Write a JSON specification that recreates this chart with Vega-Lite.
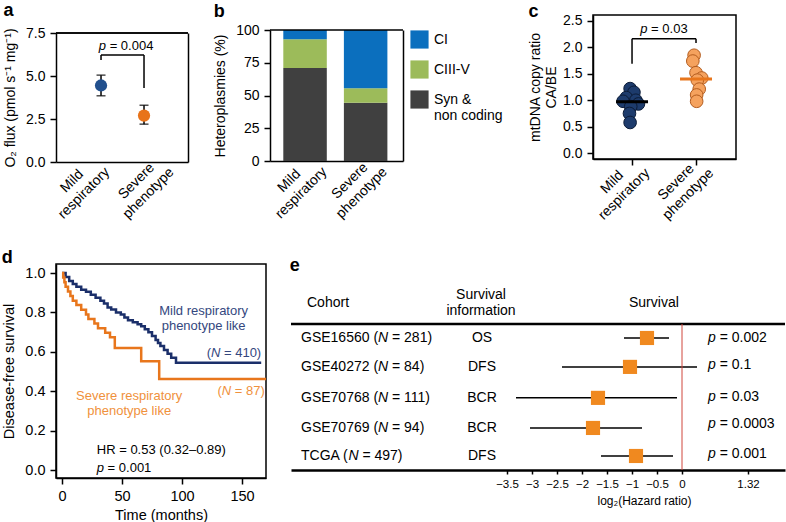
{
  "$schema": "https://vega.github.io/schema/vega-lite/v6.json",
  "padding": {"left": 1, "top": 2, "right": 0, "bottom": 0},
  "background": "white",
  "spacing": 24,
  "resolve": {"scale": {"color": "independent", "fill": "independent", "stroke": "independent"}},
  "config": {
    "font": "Liberation Sans",
    "view": {"stroke": "#000", "strokeWidth": 1.5},
    "axis": {
      "domainColor": "#000", "domainWidth": 1.5, "tickColor": "#000", "tickWidth": 1.5, "tickSize": 6,
      "labelColor": "#000", "titleColor": "#000", "labelFontSize": 14, "titleFontSize": 14,
      "titleFontWeight": "normal", "grid": false, "labelPadding": 5, "titlePadding": 8
    },
    "title": {"fontSize": 18, "fontWeight": "bold", "anchor": "start", "frame": "bounds", "color": "#000"},
    "text": {"font": "Liberation Sans", "color": "#000"}
  },
  "vconcat": [
    {
      "spacing": 24,
      "resolve": {"scale": {"color": "independent", "fill": "independent", "stroke": "independent"}},
      "hconcat": [
        {
          "title": {"text": "a", "offset": -5},
          "width": 132, "height": 147,
          "view": {"stroke": null},
          "data": {"values": [
            {"group": "Mild respiratory", "pos": 1, "mean": 4.45, "lo": 3.85, "hi": 5.05},
            {"group": "Severe phenotype", "pos": 2, "mean": 2.7, "lo": 2.2, "hi": 3.3}
          ]},
          "resolve": {"axis": {"y": "independent"}},
          "layer": [
            {"mark": {"type": "rule", "strokeWidth": 1.5, "color": "#000"},
             "encoding": {
               "x": {"field": "pos", "type": "quantitative",
                 "scale": {"domain": [-0.047, 3.023], "nice": false, "zero": false},
                 "axis": {"title": null, "labels": false, "ticks": false, "values": [1, 2]}},
               "y": {"field": "lo", "type": "quantitative", "scale": {"domain": [0, 7.5], "range": [147, 18], "nice": false},
                 "axis": {"title": "O₂ flux (pmol s⁻¹ mg⁻¹)", "values": [0, 2.5, 5, 7.5], "format": ".1f", "orient": "left"}},
               "y2": {"field": "hi"}}},
            {"mark": {"type": "tick", "thickness": 1.5, "size": 9, "color": "#000", "orient": "horizontal"},
             "encoding": {"x": {"field": "pos", "type": "quantitative"}, "y": {"field": "lo", "type": "quantitative", "axis": null}}},
            {"mark": {"type": "tick", "thickness": 1.5, "size": 9, "color": "#000", "orient": "horizontal"},
             "encoding": {"x": {"field": "pos", "type": "quantitative"}, "y": {"field": "hi", "type": "quantitative", "axis": null}}},
            {"mark": {"type": "circle", "opacity": 1, "size": 150},
             "encoding": {"x": {"field": "pos", "type": "quantitative"}, "y": {"field": "mean", "type": "quantitative", "axis": null},
               "color": {"field": "group", "type": "nominal", "scale": {"range": ["#22508e", "#e8731a"]}, "legend": null}}},
            {"data": {"values": [
              {"x": 1, "y": 5.93, "y2": 6.22},
              {"x": 2, "y": 4.3, "y2": 6.22}]},
             "mark": {"type": "rule", "strokeWidth": 1.5, "color": "#000"},
             "encoding": {"x": {"field": "x", "type": "quantitative"}, "y": {"field": "y", "type": "quantitative", "axis": null}, "y2": {"field": "y2"}}},
            {"data": {"values": [{"x": 1, "x2": 2, "y": 6.22}]},
             "mark": {"type": "rule", "strokeWidth": 1.5, "color": "#000"},
             "encoding": {"x": {"field": "x", "type": "quantitative"}, "x2": {"field": "x2"}, "y": {"field": "y", "type": "quantitative", "axis": null}}},
            {"data": {"values": [{"x": 0.95, "y": 6.75, "label": "= 0.004"}]},
             "layer": [
               {"mark": {"type": "text", "fontSize": 13, "align": "left", "baseline": "middle", "fontStyle": "italic"},
                "encoding": {"x": {"field": "x", "type": "quantitative"}, "y": {"field": "y", "type": "quantitative", "axis": null}, "text": {"value": "p"}}},
               {"mark": {"type": "text", "fontSize": 13, "align": "left", "baseline": "middle", "dx": 10.8},
                "encoding": {"x": {"field": "x", "type": "quantitative"}, "y": {"field": "y", "type": "quantitative", "axis": null}, "text": {"field": "label"}}}
             ]},
            {"data": {"values": [
              {"x": 0.326, "y": -1.12, "l1": "Mild", "l2": "respiratory"},
              {"x": 1.826, "y": -1.12, "l1": "Severe", "l2": "phenotype"}]},
             "layer": [
               {"mark": {"type": "text", "fontSize": 14, "align": "center", "baseline": "middle", "angle": -45},
                "encoding": {"x": {"field": "x", "type": "quantitative"}, "y": {"field": "y", "type": "quantitative", "axis": null}, "text": {"field": "l1"}}},
               {"mark": {"type": "text", "fontSize": 14, "align": "center", "baseline": "middle", "angle": -45, "dy": 17},
                "encoding": {"x": {"field": "x", "type": "quantitative"}, "y": {"field": "y", "type": "quantitative", "axis": null}, "text": {"field": "l2"}}}
             ]},
            {"mark": {"type": "rule", "strokeWidth": 1.5, "color": "#000"},
             "encoding": {"y": {"datum": 7.5, "type": "quantitative",
               "axis": {"orient": "right", "labels": false, "ticks": false, "title": null, "domain": true}}}}
          ]
        },
        {
          "title": {"text": "b", "offset": -6},
          "width": 133, "height": 146,
          "view": {"stroke": null},
          "resolve": {"axis": {"y": "independent"}},
          "layer": [
            {
              "data": {"values": [
                {"group": "Mild respiratory", "pos": 1, "cat": "Syn & non coding", "value": 71, "ord": 1},
                {"group": "Mild respiratory", "pos": 1, "cat": "CIII-V", "value": 22, "ord": 2},
                {"group": "Mild respiratory", "pos": 1, "cat": "CI", "value": 7, "ord": 3},
                {"group": "Severe phenotype", "pos": 2, "cat": "Syn & non coding", "value": 44.5, "ord": 1},
                {"group": "Severe phenotype", "pos": 2, "cat": "CIII-V", "value": 11, "ord": 2},
                {"group": "Severe phenotype", "pos": 2, "cat": "CI", "value": 44.5, "ord": 3}
              ]},
              "mark": {"type": "bar", "width": 43.5, "orient": "vertical"},
              "encoding": {
                "x": {"field": "pos", "type": "quantitative",
                  "scale": {"domain": [0.504, 2.534], "nice": false, "zero": false},
                  "axis": {"title": null, "labels": false, "ticks": false, "values": [1, 2]}},
                "y": {"field": "value", "type": "quantitative", "stack": "zero",
                  "scale": {"domain": [0, 100], "range": [146, 15], "nice": false},
                  "axis": {"title": "Heteroplasmies (%)", "values": [0, 25, 50, 75, 100], "orient": "left"}},
                "color": {"field": "cat", "type": "nominal",
                  "scale": {"domain": ["CI", "CIII-V", "Syn & non coding"], "range": ["#0b6fbe", "#9cbb5a", "#404040"]},
                  "legend": {"title": null, "orient": "none", "legendX": 140, "legendY": 15, "symbolType": "square", "symbolSize": 330,
                    "symbolStrokeWidth": 0, "labelFontSize": 14, "labelColor": "#000", "rowPadding": 11, "labelOffset": 5,
                    "labelExpr": "datum.label == 'Syn & non coding' ? ['Syn &', 'non coding'] : datum.label", "labelLineHeight": 15}},
                "order": {"field": "ord", "type": "quantitative"}
              }
            },
            {"data": {"values": [
              {"x": 0.74, "y": -15.3, "l1": "Mild", "l2": "respiratory"},
              {"x": 1.74, "y": -15.3, "l1": "Severe", "l2": "phenotype"}]},
             "layer": [
               {"mark": {"type": "text", "fontSize": 14, "align": "center", "baseline": "middle", "angle": -45},
                "encoding": {"x": {"field": "x", "type": "quantitative"}, "y": {"field": "y", "type": "quantitative", "axis": null}, "text": {"field": "l1"}}},
               {"mark": {"type": "text", "fontSize": 14, "align": "center", "baseline": "middle", "angle": -45, "dy": 17},
                "encoding": {"x": {"field": "x", "type": "quantitative"}, "y": {"field": "y", "type": "quantitative", "axis": null}, "text": {"field": "l2"}}}
             ]},
            {"data": {"values": [{}]},
             "mark": {"type": "rule", "strokeWidth": 1.5, "color": "#000"},
             "encoding": {"y": {"datum": 100, "type": "quantitative",
               "axis": {"orient": "right", "labels": false, "ticks": false, "title": null, "domain": true}}}}
          ]
        },
        {
          "title": {"text": "c", "offset": -7},
          "width": 143, "height": 144,
          "encoding": {
            "x": {"field": "x", "type": "quantitative", "scale": {"domain": [0.39, 2.625], "nice": false, "zero": false},
              "axis": {"title": null, "values": [1, 2], "labels": false}},
            "y": {"field": "y", "type": "quantitative", "scale": {"domain": [-0.11, 2.61], "nice": false, "zero": false},
              "axis": {"title": ["mtDNA copy ratio", "CA/BE"], "values": [0, 0.5, 1, 1.5, 2, 2.5], "format": ".1f", "labelOverlap": false, "titlePadding": 4}}
          },
          "layer": [
            {"data": {"values": [
              {"grp": "Mild", "x": 0.97, "y": 1.22}, {"grp": "Mild", "x": 1.03, "y": 1.15}, {"grp": "Mild", "x": 0.91, "y": 1.05},
              {"grp": "Mild", "x": 1.06, "y": 1.0}, {"grp": "Mild", "x": 0.86, "y": 0.98}, {"grp": "Mild", "x": 1.1, "y": 0.93},
              {"grp": "Mild", "x": 0.98, "y": 0.88}, {"grp": "Mild", "x": 0.96, "y": 0.75}, {"grp": "Mild", "x": 0.97, "y": 0.58},
              {"grp": "Severe", "x": 1.97, "y": 1.85}, {"grp": "Severe", "x": 1.95, "y": 1.74}, {"grp": "Severe", "x": 2.0, "y": 1.52},
              {"grp": "Severe", "x": 2.09, "y": 1.42}, {"grp": "Severe", "x": 2.02, "y": 1.38}, {"grp": "Severe", "x": 2.05, "y": 1.21},
              {"grp": "Severe", "x": 2.01, "y": 1.1}, {"grp": "Severe", "x": 2.01, "y": 0.98}
            ]},
             "mark": {"type": "circle", "size": 160, "opacity": 1, "strokeWidth": 1},
             "encoding": {
               "fill": {"field": "grp", "type": "nominal", "scale": {"range": ["#1d3b6c", "#f5a25e"]}, "legend": null},
               "stroke": {"field": "grp", "type": "nominal", "scale": {"range": ["#0c1c38", "#b35c1e"]}, "legend": null}
             }},
            {"data": {"values": [{"x": 0.75, "x2": 1.25, "y": 0.97}]},
             "mark": {"type": "rule", "strokeWidth": 3, "color": "#000"},
             "encoding": {"x2": {"field": "x2"}}},
            {"data": {"values": [{"x": 1.75, "x2": 2.25, "y": 1.4}]},
             "mark": {"type": "rule", "strokeWidth": 3, "color": "#e8761c"},
             "encoding": {"x2": {"field": "x2"}}},
            {"data": {"values": [{"x": 1, "y": 1.69, "y2": 2.16}, {"x": 2, "y": 2.08, "y2": 2.16}]},
             "mark": {"type": "rule", "strokeWidth": 1.5, "color": "#000"},
             "encoding": {"y2": {"field": "y2"}}},
            {"data": {"values": [{"x": 1, "x2": 2, "y": 2.16}]},
             "mark": {"type": "rule", "strokeWidth": 1.5, "color": "#000"},
             "encoding": {"x2": {"field": "x2"}}},
            {"data": {"values": [{"x": 1.5, "y": 2.34, "label": "= 0.03"}]},
             "layer": [
               {"mark": {"type": "text", "fontSize": 13, "align": "left", "baseline": "middle", "fontStyle": "italic", "dx": -23.7},
                "encoding": {"text": {"value": "p"}}},
               {"mark": {"type": "text", "fontSize": 13, "align": "left", "baseline": "middle", "dx": -12.9},
                "encoding": {"text": {"field": "label"}}}
             ]},
            {"data": {"values": [
              {"x": 0.69, "y": -0.55, "l1": "Mild", "l2": "respiratory"},
              {"x": 1.69, "y": -0.55, "l1": "Severe", "l2": "phenotype"}]},
             "layer": [
               {"mark": {"type": "text", "fontSize": 14, "align": "center", "baseline": "middle", "angle": -45},
                "encoding": {"text": {"field": "l1"}}},
               {"mark": {"type": "text", "fontSize": 14, "align": "center", "baseline": "middle", "angle": -45, "dy": 17},
                "encoding": {"text": {"field": "l2"}}}
             ]}
          ]
        }
      ]
    },
    {
      "spacing": 17,
      "resolve": {"scale": {"color": "independent", "fill": "independent", "stroke": "independent"}},
      "hconcat": [
        {
          "title": {"text": "d", "offset": -3},
          "width": 210, "height": 214,
          "encoding": {
            "x": {"field": "t", "type": "quantitative", "scale": {"domain": [-5, 170], "nice": false, "zero": false},
              "axis": {"title": "Time (months)", "values": [0, 50, 100, 150], "labelFontSize": 14.5, "titleFontSize": 14.5, "titlePadding": 6}},
            "y": {"field": "s", "type": "quantitative", "scale": {"domain": [-0.04, 1.046], "nice": false, "zero": false},
              "axis": {"title": "Disease-free survival", "values": [0, 0.2, 0.4, 0.6, 0.8, 1.0], "format": ".1f", "labelFontSize": 14.5, "titleFontSize": 14.5}}
          },
          "layer": [
            {"data": {"values": [
              {"grp": "Mild", "t": 0, "s": 1.0}, {"grp": "Mild", "t": 3, "s": 0.98}, {"grp": "Mild", "t": 6, "s": 0.96},
              {"grp": "Mild", "t": 9, "s": 0.945}, {"grp": "Mild", "t": 12, "s": 0.93}, {"grp": "Mild", "t": 16, "s": 0.915},
              {"grp": "Mild", "t": 20, "s": 0.905}, {"grp": "Mild", "t": 24, "s": 0.89}, {"grp": "Mild", "t": 28, "s": 0.875},
              {"grp": "Mild", "t": 32, "s": 0.86}, {"grp": "Mild", "t": 35, "s": 0.845}, {"grp": "Mild", "t": 38, "s": 0.825},
              {"grp": "Mild", "t": 41, "s": 0.815}, {"grp": "Mild", "t": 45, "s": 0.8}, {"grp": "Mild", "t": 49, "s": 0.79},
              {"grp": "Mild", "t": 52, "s": 0.775}, {"grp": "Mild", "t": 55, "s": 0.76}, {"grp": "Mild", "t": 59, "s": 0.75},
              {"grp": "Mild", "t": 63, "s": 0.74}, {"grp": "Mild", "t": 66, "s": 0.73}, {"grp": "Mild", "t": 69, "s": 0.715},
              {"grp": "Mild", "t": 72, "s": 0.7}, {"grp": "Mild", "t": 75, "s": 0.68}, {"grp": "Mild", "t": 78, "s": 0.66},
              {"grp": "Mild", "t": 80, "s": 0.645}, {"grp": "Mild", "t": 82, "s": 0.63}, {"grp": "Mild", "t": 85, "s": 0.61},
              {"grp": "Mild", "t": 88, "s": 0.59}, {"grp": "Mild", "t": 91, "s": 0.57}, {"grp": "Mild", "t": 95, "s": 0.545},
              {"grp": "Mild", "t": 166, "s": 0.545},
              {"grp": "Severe", "t": 0, "s": 1.0}, {"grp": "Severe", "t": 1, "s": 0.977}, {"grp": "Severe", "t": 2, "s": 0.954},
              {"grp": "Severe", "t": 3, "s": 0.93}, {"grp": "Severe", "t": 5, "s": 0.907}, {"grp": "Severe", "t": 7, "s": 0.884},
              {"grp": "Severe", "t": 9, "s": 0.86}, {"grp": "Severe", "t": 12, "s": 0.838}, {"grp": "Severe", "t": 16, "s": 0.814},
              {"grp": "Severe", "t": 20, "s": 0.79}, {"grp": "Severe", "t": 22, "s": 0.767}, {"grp": "Severe", "t": 27, "s": 0.744},
              {"grp": "Severe", "t": 30, "s": 0.72}, {"grp": "Severe", "t": 36, "s": 0.697}, {"grp": "Severe", "t": 40, "s": 0.674},
              {"grp": "Severe", "t": 44, "s": 0.62}, {"grp": "Severe", "t": 66, "s": 0.553}, {"grp": "Severe", "t": 81, "s": 0.462},
              {"grp": "Severe", "t": 170, "s": 0.462}
            ]},
             "mark": {"type": "line", "interpolate": "step-after", "strokeWidth": 2.5},
             "encoding": {
               "color": {"field": "grp", "type": "nominal", "scale": {"domain": ["Mild", "Severe"], "range": ["#1b2f6a", "#e8761c"]}, "legend": null}
             }},
            {"data": {"values": [{"t": 118, "s": 0.807, "label": "Mild respiratory\nphenotype like"}]},
             "mark": {"type": "text", "fontSize": 13, "align": "center", "baseline": "middle", "lineBreak": "\n", "lineHeight": 15, "color": "#34477e"},
             "encoding": {"text": {"field": "label"}}},
            {"data": {"values": [{"t": 166, "s": 0.594, "label": "= 410)"}]},
             "layer": [
               {"mark": {"type": "text", "fontSize": 13, "align": "right", "baseline": "middle", "color": "#34477e"},
                "encoding": {"text": {"field": "label"}}},
               {"mark": {"type": "text", "fontSize": 13, "align": "right", "baseline": "middle", "color": "#34477e", "fontStyle": "italic", "dx": -40.8},
                "encoding": {"text": {"value": "N"}}},
               {"mark": {"type": "text", "fontSize": 13, "align": "right", "baseline": "middle", "color": "#34477e", "dx": -50.2},
                "encoding": {"text": {"value": "("}}}
             ]},
            {"data": {"values": [{"t": 56, "s": 0.376, "label": "Severe respiratory\nphenotype like"}]},
             "mark": {"type": "text", "fontSize": 13, "align": "center", "baseline": "middle", "lineBreak": "\n", "lineHeight": 15, "color": "#f0913c"},
             "encoding": {"text": {"field": "label"}}},
            {"data": {"values": [{"t": 169, "s": 0.4, "label": "= 87)"}]},
             "layer": [
               {"mark": {"type": "text", "fontSize": 13, "align": "right", "baseline": "middle", "color": "#f0913c"},
                "encoding": {"text": {"field": "label"}}},
               {"mark": {"type": "text", "fontSize": 13, "align": "right", "baseline": "middle", "color": "#f0913c", "fontStyle": "italic", "dx": -33.6},
                "encoding": {"text": {"value": "N"}}},
               {"mark": {"type": "text", "fontSize": 13, "align": "right", "baseline": "middle", "color": "#f0913c", "dx": -43.0},
                "encoding": {"text": {"value": "("}}}
             ]},
            {"data": {"values": [{"t": 29, "s": 0.1, "label": "HR = 0.53 (0.32–0.89)"}]},
             "mark": {"type": "text", "fontSize": 13, "align": "left", "baseline": "middle"},
             "encoding": {"text": {"field": "label"}}},
            {"data": {"values": [{"t": 29, "s": 0.01, "label": "= 0.001"}]},
             "layer": [
               {"mark": {"type": "text", "fontSize": 13, "align": "left", "baseline": "middle", "fontStyle": "italic"},
                "encoding": {"text": {"value": "p"}}},
               {"mark": {"type": "text", "fontSize": 13, "align": "left", "baseline": "middle", "dx": 10.8},
                "encoding": {"text": {"field": "label"}}}
             ]}
          ]
        },
        {
          "title": {"text": "e", "offset": -11},
          "width": 494, "height": 206,
          "view": {"stroke": null},
          "resolve": {"axis": {"x": "independent"}},
          "data": {"values": [
            {"c1": "GSE16560 (", "c2": "= 281)", "info": "OS", "hr": -0.7, "lo": -1.16, "hi": -0.26, "pv": "= 0.002", "row": 1, "prow": 1},
            {"c1": "GSE40272 (", "c2": "= 84)", "info": "DFS", "hr": -1.04, "lo": -2.4, "hi": 0.3, "pv": "= 0.1", "row": 1.98, "prow": 1.92},
            {"c1": "GSE70768 (", "c2": "= 111)", "info": "BCR", "hr": -1.68, "lo": -3.32, "hi": -0.1, "pv": "= 0.03", "row": 3.03, "prow": 3.0},
            {"c1": "GSE70769 (", "c2": "= 94)", "info": "BCR", "hr": -1.78, "lo": -3.04, "hi": -0.8, "pv": "= 0.0003", "row": 4.05, "prow": 3.9},
            {"c1": "TCGA (", "c2": "= 497)", "info": "DFS", "hr": -0.92, "lo": -1.62, "hi": -0.18, "pv": "= 0.001", "row": 5.0, "prow": 4.93}
          ]},
          "layer": [
            {"mark": {"type": "rule", "strokeWidth": 1.5, "color": "#000"},
             "encoding": {
               "x": {"field": "lo", "type": "quantitative", "scale": {"domain": [-7.82, 2.06], "nice": false, "zero": false},
                 "axis": {"title": "log₂(Hazard ratio)", "values": [-3.5, -3, -2.5, -2, -1.5, -1, -0.5, 0, 1.32], "format": ".2~f", "labelOverlap": false, "orient": "bottom",
                   "domainWidth": 2.5, "tickSize": 4, "labelFontSize": 11.5, "titleFontSize": 12, "titleX": 353, "titlePadding": 6, "labelPadding": 4}},
               "x2": {"field": "hi"},
               "y": {"field": "row", "type": "quantitative", "scale": {"domain": [-1.508, 5.475], "nice": false, "zero": false, "reverse": true}, "axis": null}}},
            {"mark": {"type": "square", "size": 200, "opacity": 1, "color": "#f0891f"},
             "encoding": {"x": {"field": "hr", "type": "quantitative", "axis": null}, "y": {"field": "row", "type": "quantitative", "axis": null}}},
            {"mark": {"type": "text", "fontSize": 14, "align": "left", "baseline": "middle"},
             "encoding": {"x": {"datum": -7.62, "type": "quantitative", "axis": null}, "y": {"field": "row", "type": "quantitative", "axis": null}, "text": {"field": "c1"}}},
            {"transform": [{"filter": "datum.c1 != 'TCGA ('"}],
             "layer": [
               {"mark": {"type": "text", "fontSize": 14, "align": "left", "baseline": "middle", "fontStyle": "italic", "dx": 77.0},
                "encoding": {"x": {"datum": -7.62, "type": "quantitative", "axis": null}, "y": {"field": "row", "type": "quantitative", "axis": null}, "text": {"value": "N"}}},
               {"mark": {"type": "text", "fontSize": 14, "align": "left", "baseline": "middle", "dx": 91.0},
                "encoding": {"x": {"datum": -7.62, "type": "quantitative", "axis": null}, "y": {"field": "row", "type": "quantitative", "axis": null}, "text": {"field": "c2"}}}
             ]},
            {"transform": [{"filter": "datum.c1 == 'TCGA ('"}],
             "layer": [
               {"mark": {"type": "text", "fontSize": 14, "align": "left", "baseline": "middle", "fontStyle": "italic", "dx": 47.4},
                "encoding": {"x": {"datum": -7.62, "type": "quantitative", "axis": null}, "y": {"field": "row", "type": "quantitative", "axis": null}, "text": {"value": "N"}}},
               {"mark": {"type": "text", "fontSize": 14, "align": "left", "baseline": "middle", "dx": 61.4},
                "encoding": {"x": {"datum": -7.62, "type": "quantitative", "axis": null}, "y": {"field": "row", "type": "quantitative", "axis": null}, "text": {"field": "c2"}}}
             ]},
            {"mark": {"type": "text", "fontSize": 14, "align": "center", "baseline": "middle"},
             "encoding": {"x": {"datum": -4.0, "type": "quantitative", "axis": null}, "y": {"field": "row", "type": "quantitative", "axis": null}, "text": {"field": "info"}}},
            {"mark": {"type": "text", "fontSize": 14, "align": "left", "baseline": "middle", "fontStyle": "italic"},
             "encoding": {"x": {"datum": 0.52, "type": "quantitative", "axis": null}, "y": {"field": "prow", "type": "quantitative", "axis": null}, "text": {"value": "p"}}},
            {"mark": {"type": "text", "fontSize": 14, "align": "left", "baseline": "middle", "dx": 11.7},
             "encoding": {"x": {"datum": 0.52, "type": "quantitative", "axis": null}, "y": {"field": "prow", "type": "quantitative", "axis": null}, "text": {"field": "pv"}}},
            {"data": {"values": [{"x": -7.82, "x2": 2.06, "y": 0.525}]},
             "mark": {"type": "rule", "strokeWidth": 2.5, "color": "#000"},
             "encoding": {"x": {"field": "x", "type": "quantitative", "axis": null}, "x2": {"field": "x2"}, "y": {"field": "y", "type": "quantitative", "axis": null}}},
            {"data": {"values": [{"x": 0, "y": 0.525, "y2": 5.475}]},
             "mark": {"type": "rule", "strokeWidth": 1, "color": "#d0473c"},
             "encoding": {"x": {"field": "x", "type": "quantitative", "axis": null}, "y": {"field": "y", "type": "quantitative", "axis": null}, "y2": {"field": "y2"}}},
            {"data": {"values": [
              {"x": -7.5, "y": -0.186, "label": "Cohort"},
              {"x": -1.06, "y": -0.186, "label": "Survival"}]},
             "mark": {"type": "text", "fontSize": 14, "align": "left", "baseline": "middle"},
             "encoding": {"x": {"field": "x", "type": "quantitative", "axis": null}, "y": {"field": "y", "type": "quantitative", "axis": null}, "text": {"field": "label"}}},
            {"data": {"values": [{"x": -4.02, "y": -0.458, "label": "Survival\ninformation"}]},
             "mark": {"type": "text", "fontSize": 14, "align": "center", "baseline": "middle", "lineBreak": "\n", "lineHeight": 16},
             "encoding": {"x": {"field": "x", "type": "quantitative", "axis": null}, "y": {"field": "y", "type": "quantitative", "axis": null}, "text": {"field": "label"}}}
          ]
        }
      ]
    }
  ]
}
